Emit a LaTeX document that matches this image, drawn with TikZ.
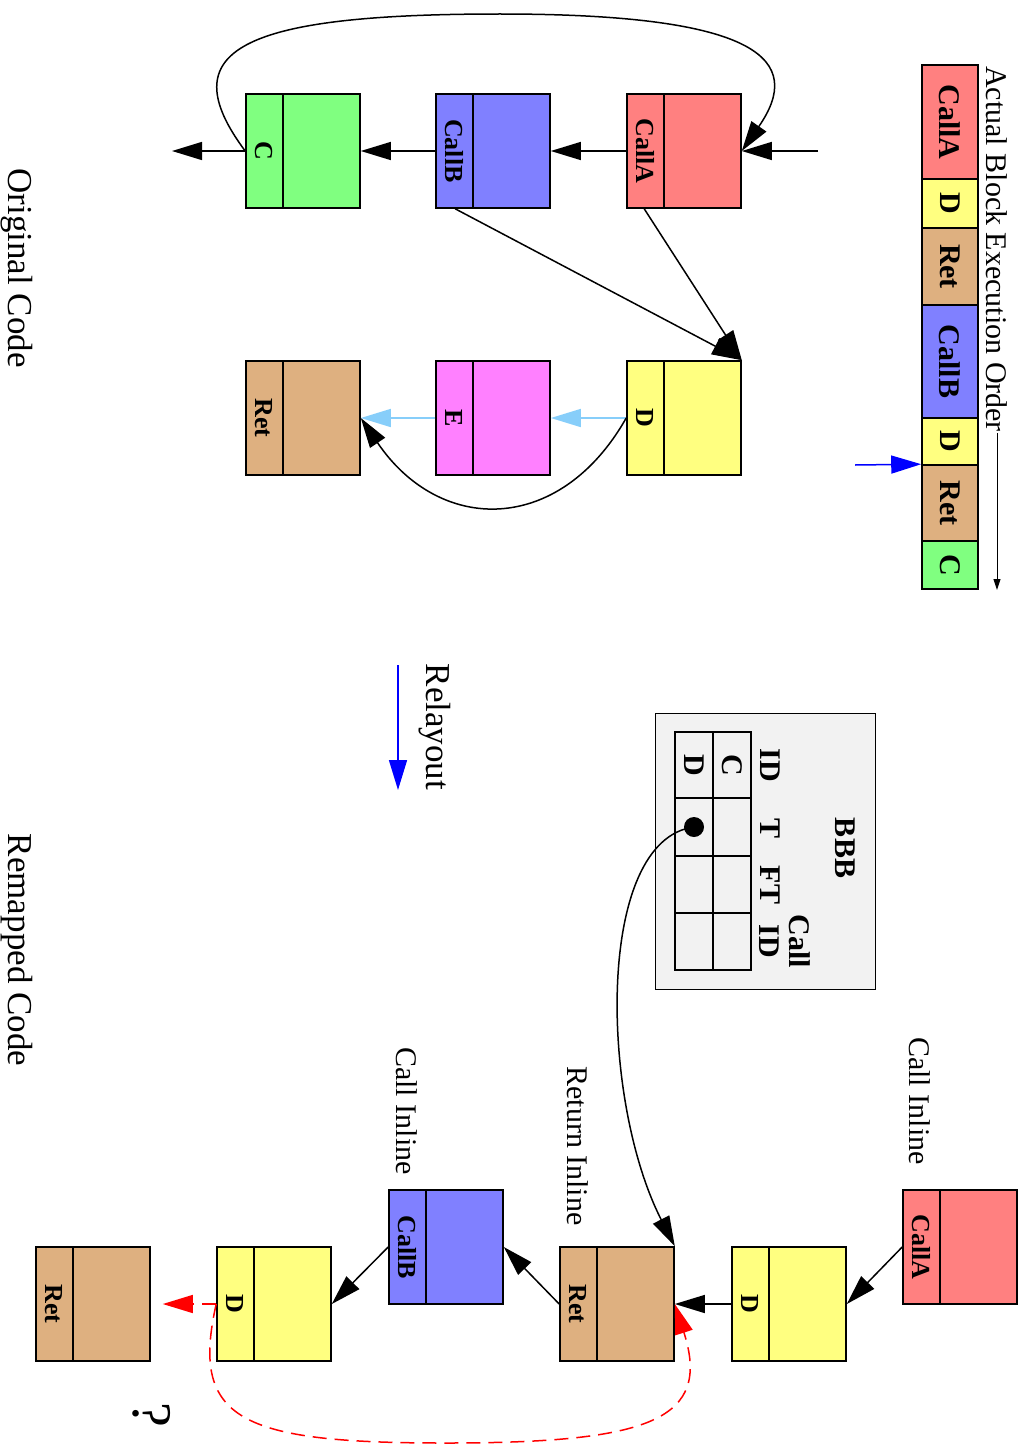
\documentclass[tikz,border=0pt]{standalone}
\usepackage{fontspec}
\setmainfont{Liberation Serif}
\usetikzlibrary{arrows.meta,positioning}
\definecolor{callared}{RGB}{255,128,128}
\definecolor{dyellow}{RGB}{255,255,128}
\definecolor{rettan}{RGB}{222,176,128}
\definecolor{callbblue}{RGB}{128,128,255}
\definecolor{cgreen}{RGB}{128,255,128}
\definecolor{emagenta}{RGB}{255,128,255}
\definecolor{fallblue}{RGB}{135,206,250}
\definecolor{panelgray}{RGB}{242,242,242}

\begin{document}
\begin{tikzpicture}[
    x=1pt, y=-1pt,
    block/.style={draw, line width=1.6pt, minimum size=114pt, inner sep=0pt},
    tag/.style={rotate=-90, inner sep=0pt, font=\fontsize{26}{30}\selectfont\bfseries},
    seg/.style={draw, rotate=-90, line width=1.6pt, minimum height=56pt, inner sep=0pt, font=\fontsize{30}{34}\selectfont\bfseries},
    cell/.style={draw, line width=1.6pt, minimum width=38pt, inner sep=0pt},
    hdr/.style={rotate=-90, inner sep=0pt, align=center, font=\fontsize{30}{30}\selectfont\bfseries},
    caption/.style={rotate=-90, inner sep=1pt, font=\fontsize{30}{36}\selectfont},
    big/.style={rotate=-90, inner sep=1pt, font=\fontsize{35}{40}\selectfont},
    edge/.style={line width=1.5pt, -{Triangle[length=30pt,width=18pt]}},
]
    \useasboundingbox (0,0) rectangle (1021,1445);
    % Blocks, original and remapped
    \foreach \n/\x/\y/\c/\t in {oA/684/151/callared/CallA, oB/493/151/callbblue/CallB, oC/303/151/cgreen/C,
        oD/684/418/dyellow/D, oE/493/418/emagenta/E, oR/303/418/rettan/Ret,
        rA/960/1247/callared/CallA, rD1/789/1304/dyellow/D, rR1/617/1304/rettan/Ret,
        rB/446/1247/callbblue/CallB, rD2/274/1304/dyellow/D, rR2/93/1304/rettan/Ret} {
        \node[block, fill=\c] (\n) at (\x,\y) {};
        \draw[line width=1.6pt] ([xshift=38pt]\n.north west) -- ([xshift=38pt]\n.south west);
        \node[tag] at ([xshift=19pt]\n.west) {\t};
    }
    % Execution order bar
    \foreach \n/\a/\b/\c/\t in {sA/65/179/callared/CallA, sD/179/228/dyellow/D, sR/228/305/rettan/Ret,
        sB/305/418/callbblue/CallB, sD2/418/465/dyellow/D, sR2/465/541/rettan/Ret, sC/541/589/cgreen/C} {
        \node[seg, fill=\c, minimum width={(\b-\a)*1pt}] (\n) at (950,{(\a+\b)/2}) {\t};
    }
    \node[caption, anchor=west] (title) at (997,65) {Actual Block Execution Order};
    \draw[line width=1pt, -{Triangle[length=11pt,width=7pt]}] (title.east) -- (title.east |- 0,590);
    \coordinate (cursor) at (855,465);
    \draw[edge, blue] (cursor) -- (sR2.south west);
    % Original code edges
    \coordinate (entry) at (818,151);
    \coordinate (exit) at (172,151);
    \coordinate (loopTop) at (500,14);
    \draw[edge] (entry) -- (oA.east);
    \draw[edge] (oA.west) -- (oB.east);
    \draw[edge] (oB.west) -- (oC.east);
    \draw[edge] (oC.west) -- (exit);
    \draw[edge] (oC.west) .. controls (170,50) and (240,14) .. (loopTop) .. controls (760,14) and (805,60) .. (oA.east);
    \draw[edge] ([xshift=18pt]oA.south west) -- (oD.north east);
    \draw[edge] ([xshift=20pt]oB.south west) -- (oD.north east);
    \draw[edge, fallblue] (oD.west) -- (oE.east);
    \draw[edge, fallblue] (oE.west) -- (oR.east);
    \draw[edge] (oD.west) .. controls (560,535) and (440,535) .. (oR.east);
    % Relayout
    \coordinate (relayFrom) at (398,665);
    \coordinate (relayTo) at (398,790);
    \draw[edge, blue] (relayFrom) -- (relayTo);
    \node[big] (relay) at (435,727) {Relayout};
    \node[big] (orig) at (17,268) {Original Code};
    \node[big] (remap) at (17,950) {Remapped Code};
    % BBB table
    \node[draw, fill=panelgray, line width=1pt, minimum width=220pt, minimum height=276pt] (bbb) at (765,851) {};
    \node[hdr] at (845,848) {BBB};
    \node[hdr] at (770,765) {ID};
    \node[hdr] at (770,828) {T};
    \node[hdr] at (770,885) {FT};
    \node[hdr] at (785,941) {Call\\ID};
    \foreach \c/\x in {l/694,r/732} {
        \foreach \r/\a/\b in {1/732/798, 2/798/856, 3/856/913, 4/913/970} {
            \node[cell, minimum height={(\b-\a)*1pt}] (t\c\r) at (\x,{(\a+\b)/2}) {};
        }
    }
    \node[hdr] at (tr1) {C};
    \node[hdr] at (tl1) {D};
    \node[circle, fill, minimum size=20pt, inner sep=0pt] (dot) at (tl2) {};
    \draw[edge] (dot.center) .. controls (595,840) and (600,1100) .. (rR1.north east);
    % Remapped code edges
    \draw[edge] (rA.west) -- (rD1.east);
    \draw[edge] (rD1.west) -- (rR1.east);
    \draw[edge] (rR1.west) -- (rB.east);
    \draw[edge] (rB.west) -- (rD2.east);
    \coordinate (loopBottom) at (445,1443);
    \draw[edge, red, dash pattern=on 14pt off 8pt] (rD2.west) .. controls (190,1420) and (240,1443) .. (loopBottom) .. controls (650,1443) and (712,1420) .. (rR1.east);
    \draw[edge, red, dash pattern=on 14pt off 8pt, shorten >=12pt] (rD2.west) -- (rR2.east);
    \node[caption] (callInlA) at (920,1101) {Call Inline};
    \node[caption] (retInl) at (578,1146) {Return Inline};
    \node[caption] (callInlB) at (407,1111) {Call Inline};
    \node[rotate=-90, font=\fontsize{56}{56}\selectfont] (unknown) at (152,1415) {?};
\end{tikzpicture}
\end{document}
